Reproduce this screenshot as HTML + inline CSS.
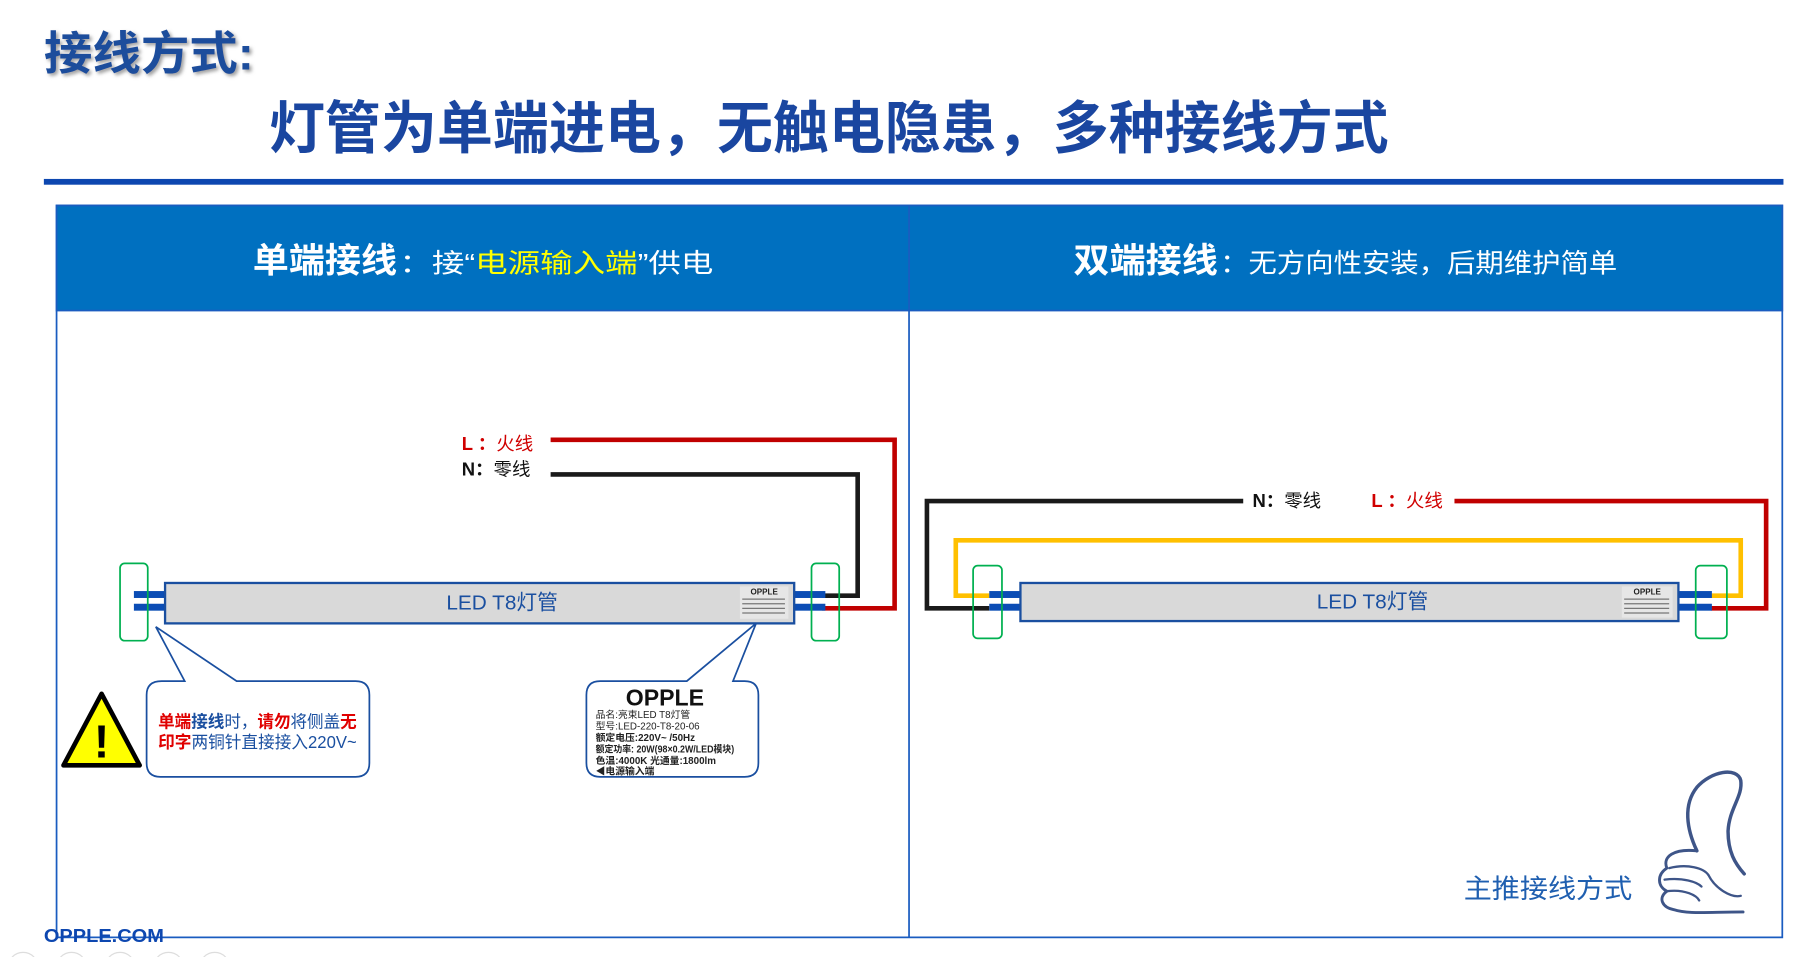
<!DOCTYPE html>
<html><head><meta charset="utf-8"><style>
html,body{margin:0;padding:0;background:#fff;width:1810px;height:957px;overflow:hidden}
svg{display:block}
text{font-family:"Liberation Sans","Noto Sans CJK SC",sans-serif}
</style></head><body>
<svg width="1810" height="957" viewBox="0 0 1568 829" preserveAspectRatio="none" xmlns="http://www.w3.org/2000/svg">
<defs><filter id="sh"><feDropShadow dx="2" dy="2" stdDeviation="1.5" flood-color="#777" flood-opacity="0.7"/></filter></defs>
<text x="38" y="60" font-size="40" font-weight="bold" fill="#1f4e9c" filter="url(#sh)" textLength="182" lengthAdjust="spacingAndGlyphs">接线方式:</text>
<text x="233" y="128" font-size="49" font-weight="bold" fill="#1a46a0" textLength="970" lengthAdjust="spacingAndGlyphs">灯管为单端进电，无触电隐患，多种接线方式</text>
<rect x="38" y="155" width="1507" height="5" fill="#0d47b0"/>
<!-- panel -->
<rect x="49" y="178" width="1495" height="634" fill="#fff" stroke="#1a5cc0" stroke-width="1.5"/>
<rect x="49" y="178" width="1495" height="91" fill="#0070c0" stroke="#1a5cc0" stroke-width="1.5"/>
<line x1="787.5" y1="178" x2="787.5" y2="812" stroke="#1a5cc0" stroke-width="1.5"/>
<text x="219" y="236" font-size="30" font-weight="bold" fill="#fff" textLength="125" lengthAdjust="spacingAndGlyphs">单端接线</text>
<text x="346" y="236" font-size="23" fill="#fff" textLength="272" lengthAdjust="spacingAndGlyphs">：接“<tspan fill="#ffff00">电源输入端</tspan>”供电</text>
<text x="930" y="236" font-size="30" font-weight="bold" fill="#fff" textLength="125" lengthAdjust="spacingAndGlyphs">双端接线</text>
<text x="1057" y="236" font-size="23" fill="#fff" textLength="344" lengthAdjust="spacingAndGlyphs">：无方向性安装，后期维护简单</text>
<!-- left wires -->
<polyline points="477,381 775,381 775,527 712,527" fill="none" stroke="#c00000" stroke-width="4"/>
<polyline points="477,411 743,411 743,516 712,516" fill="none" stroke="#1a1a1a" stroke-width="4"/>
<text x="400" y="390" font-size="16" fill="#d00000"><tspan font-weight="bold">L ：</tspan>火线</text>
<text x="400" y="412" font-size="16" fill="#111"><tspan font-weight="bold">N：</tspan>零线</text>
<!-- left tube -->
<rect x="116" y="512" width="28" height="6" fill="#0b4db5"/><rect x="116" y="523" width="28" height="6" fill="#0b4db5"/>
<rect x="687" y="512" width="28" height="6" fill="#0b4db5"/><rect x="687" y="523" width="28" height="6" fill="#0b4db5"/>
<rect x="143" y="505" width="545" height="35" fill="#d9d9d9" stroke="#1a4fa0" stroke-width="2"/>
<text x="435" y="528" font-size="18" fill="#1a4fa0" text-anchor="middle">LED T8灯管</text>
<rect x="641" y="508" width="42" height="28" fill="#e6e6e6"/>
<text x="662" y="515" font-size="7" font-weight="bold" fill="#222" text-anchor="middle">OPPLE</text>
<g stroke="#777" stroke-width="1"><line x1="643" y1="519" x2="680" y2="519"/><line x1="643" y1="523" x2="680" y2="523"/><line x1="643" y1="527" x2="680" y2="527"/><line x1="643" y1="531" x2="680" y2="531"/></g>
<rect x="104" y="488" width="24" height="67" rx="4" fill="none" stroke="#00b050" stroke-width="1.5"/>
<rect x="703" y="488" width="24" height="67" rx="4" fill="none" stroke="#00b050" stroke-width="1.5"/>
<!-- callout 1 -->
<path d="M140,590 L160,590 L135,543 L205,590 L308,590 Q320,590 320,602 L320,661 Q320,673 308,673 L139,673 Q127,673 127,661 L127,602 Q127,590 140,590Z" fill="#fff" stroke="#1a4fa0" stroke-width="1.5"/>
<text x="137" y="630" font-size="15" fill="#1a4fa0" textLength="172" lengthAdjust="spacingAndGlyphs"><tspan fill="#e00000" font-weight="bold">单端</tspan><tspan font-weight="bold">接线</tspan>时，<tspan fill="#e00000" font-weight="bold">请勿</tspan>将侧盖<tspan fill="#e00000" font-weight="bold">无</tspan></text>
<text x="137" y="648" font-size="15" fill="#1a4fa0" textLength="172" lengthAdjust="spacingAndGlyphs"><tspan fill="#e00000" font-weight="bold">印字</tspan>两铜针直接接入220V~</text>
<polygon points="88,601 121,663 55,663" fill="#ffff00" stroke="#000" stroke-width="4" stroke-linejoin="round"/>
<text x="88" y="656" font-size="40" font-weight="bold" fill="#000" text-anchor="middle">!</text>
<!-- callout 2 -->
<path d="M520,590 L595,590 L655,540 L635,590 L645,590 Q657,590 657,602 L657,661 Q657,673 645,673 L520,673 Q508,673 508,661 L508,602 Q508,590 520,590Z" fill="#fff" stroke="#1a4fa0" stroke-width="1.5"/>
<text x="576" y="611" font-size="20" font-weight="bold" fill="#111" text-anchor="middle">OPPLE</text>
<g font-size="8.5" fill="#222">
<text x="516" y="622">品名:亮束LED T8灯管</text>
<text x="516" y="632">型号:LED-220-T8-20-06</text>
<text x="516" y="642" font-weight="bold">额定电压:220V~ /50Hz</text>
<text x="516" y="652" font-weight="bold" textLength="120" lengthAdjust="spacingAndGlyphs">额定功率: 20W(98×0.2W/LED模块)</text>
<text x="516" y="662" font-weight="bold">色温:4000K  光通量:1800lm</text>
<text x="516" y="671" font-weight="bold">◀电源输入端</text>
</g>
<!-- right wires -->
<polyline points="1077,434 803,434 803,527 857,527" fill="none" stroke="#1a1a1a" stroke-width="4"/>
<polyline points="1260,434 1530,434 1530,527 1482,527" fill="none" stroke="#c00000" stroke-width="4"/>
<polyline points="857,516 828,516 828,468 1508,468 1508,516 1482,516" fill="none" stroke="#ffc000" stroke-width="4"/>
<text x="1085" y="439" font-size="16" fill="#111"><tspan font-weight="bold">N：</tspan>零线</text>
<text x="1188" y="439" font-size="16" fill="#d00000"><tspan font-weight="bold">L ：</tspan>火线</text>
<rect x="857" y="512" width="28" height="6" fill="#0b4db5"/><rect x="857" y="523" width="28" height="6" fill="#0b4db5"/>
<rect x="1453" y="512" width="30" height="6" fill="#0b4db5"/><rect x="1453" y="523" width="30" height="6" fill="#0b4db5"/>
<rect x="884" y="505" width="570" height="33" fill="#d9d9d9" stroke="#1a4fa0" stroke-width="2"/>
<text x="1189" y="527" font-size="18" fill="#1a4fa0" text-anchor="middle">LED T8灯管</text>
<rect x="1405" y="508" width="44" height="27" fill="#e6e6e6"/>
<text x="1427" y="515" font-size="7" font-weight="bold" fill="#222" text-anchor="middle">OPPLE</text>
<g stroke="#777" stroke-width="1"><line x1="1407" y1="519" x2="1446" y2="519"/><line x1="1407" y1="523" x2="1446" y2="523"/><line x1="1407" y1="527" x2="1446" y2="527"/><line x1="1407" y1="531" x2="1446" y2="531"/></g>
<rect x="843" y="490" width="25" height="63" rx="4" fill="none" stroke="#00b050" stroke-width="1.5"/>
<rect x="1469" y="490" width="27" height="63" rx="4" fill="none" stroke="#00b050" stroke-width="1.5"/>
<!-- thumb -->
<g fill="none" stroke="#3e5588" stroke-width="3" stroke-linecap="round" stroke-linejoin="round">
<path d="M1470,737 C1461,718 1458,697 1470,682 C1482,668 1505,664 1508,676 C1510,690 1498,700 1497,720 C1497,738 1503,748 1511,757"/>
<path d="M1470,737 C1450,735 1440,742 1444,752 C1435,758 1436,768 1444,772 C1436,778 1440,786 1450,788 C1462,792 1480,790 1510,790" stroke-width="2.5"/>
<path d="M1446,752 C1462,748 1476,752 1480,758" stroke-width="2"/>
<path d="M1444,772 C1460,770 1470,776 1472,780" stroke-width="2"/>
<path d="M1442,762 C1458,760 1470,764 1474,768" stroke-width="2"/>
<path d="M1480,758 C1486,770 1500,778 1508,776" stroke-width="2"/>
</g>
<text x="1268" y="778" font-size="23" fill="#1f5fb0" textLength="146" lengthAdjust="spacingAndGlyphs">主推接线方式</text>
<text x="38" y="816" font-size="16" font-weight="bold" fill="#0d47b0" textLength="104" lengthAdjust="spacingAndGlyphs">OPPLE.COM</text>
<g fill="none" stroke="#ddd" stroke-width="1"><circle cx="20" cy="838" r="13"/><circle cx="62" cy="838" r="13"/><circle cx="104" cy="838" r="13"/><circle cx="146" cy="838" r="13"/><circle cx="186" cy="838" r="13"/></g>
</svg>
</body></html>
